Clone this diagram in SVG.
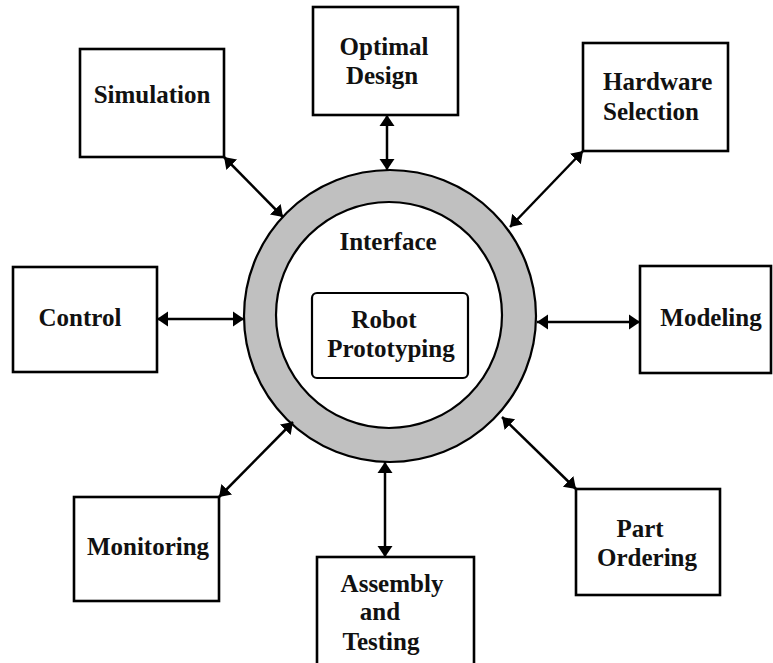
<svg xmlns="http://www.w3.org/2000/svg" width="773" height="663" viewBox="0 0 773 663">
  <style>
    .box { fill: #ffffff; stroke: #000000; stroke-width: 2.6; }
    .lbl { font-family: "Liberation Serif", "Times New Roman", serif; font-weight: bold; font-size: 25px; fill: #111111; text-anchor: middle; }
    .left { text-anchor: start; }
    .link { stroke: #000000; stroke-width: 2.5; fill: none; marker-start: url(#head); marker-end: url(#head); }
  </style>
  <defs>
    <marker id="head" markerUnits="userSpaceOnUse" markerWidth="12" markerHeight="18" viewBox="0 0 12 18" refX="11" refY="9" orient="auto-start-reverse">
      <path d="M0,1.5 L11,9 L0,16.5 Z" fill="#000000"/>
    </marker>
  </defs>
  <rect width="773" height="663" fill="#ffffff"/>

  <!-- central interface ring -->
  <g id="interface">
    <circle cx="390" cy="316" r="146" fill="#c0c0c0" stroke="#000000" stroke-width="2.2"/>
    <circle cx="389" cy="315" r="113" fill="#ffffff" stroke="#000000" stroke-width="2.2"/>
    <text class="lbl" x="388" y="250">Interface</text>
  </g>

  <g id="robot-prototyping">
    <rect x="312" y="293" width="156" height="85" rx="5" fill="#ffffff" stroke="#000000" stroke-width="2.2"/>
    <text class="lbl" x="384" y="328">Robot</text>
    <text class="lbl" x="391" y="357">Prototyping</text>
  </g>

  <!-- surrounding modules -->
  <g id="optimal-design">
    <rect class="box" x="313" y="7" width="145" height="108"/>
    <text class="lbl" x="384" y="55">Optimal</text>
    <text class="lbl" x="382" y="84">Design</text>
  </g>

  <g id="simulation">
    <rect class="box" x="80" y="49" width="144" height="108"/>
    <text class="lbl" x="152" y="103">Simulation</text>
  </g>

  <g id="hardware-selection">
    <rect class="box" x="583" y="43" width="145" height="108"/>
    <text class="lbl left" x="603" y="90">Hardware</text>
    <text class="lbl left" x="603" y="120">Selection</text>
  </g>

  <g id="control">
    <rect class="box" x="13" y="267" width="144" height="105"/>
    <text class="lbl" x="80" y="326">Control</text>
  </g>

  <g id="modeling">
    <rect class="box" x="640" y="266" width="131" height="107"/>
    <text class="lbl" x="711" y="326">Modeling</text>
  </g>

  <g id="monitoring">
    <rect class="box" x="74" y="497" width="145" height="104"/>
    <text class="lbl" x="148" y="555">Monitoring</text>
  </g>

  <g id="part-ordering">
    <rect class="box" x="576" y="489" width="144" height="106"/>
    <text class="lbl" x="640" y="537">Part</text>
    <text class="lbl" x="647" y="566">Ordering</text>
  </g>

  <g id="assembly-testing">
    <rect class="box" x="317" y="557" width="157" height="115"/>
    <text class="lbl" x="392" y="592">Assembly</text>
    <text class="lbl" x="380" y="620">and</text>
    <text class="lbl" x="381" y="650">Testing</text>
  </g>

  <!-- two-way links between modules and the interface -->
  <g id="connectors">
    <line class="link" x1="387" y1="115" x2="387" y2="170"/>
    <line class="link" x1="224" y1="157" x2="283" y2="217"/>
    <line class="link" x1="583" y1="151" x2="510" y2="227"/>
    <line class="link" x1="157" y1="319" x2="244" y2="319"/>
    <line class="link" x1="640" y1="322" x2="537" y2="322"/>
    <line class="link" x1="219" y1="497" x2="293" y2="422"/>
    <line class="link" x1="576" y1="489" x2="502" y2="417"/>
    <line class="link" x1="385" y1="557" x2="385" y2="462"/>
  </g>
</svg>
